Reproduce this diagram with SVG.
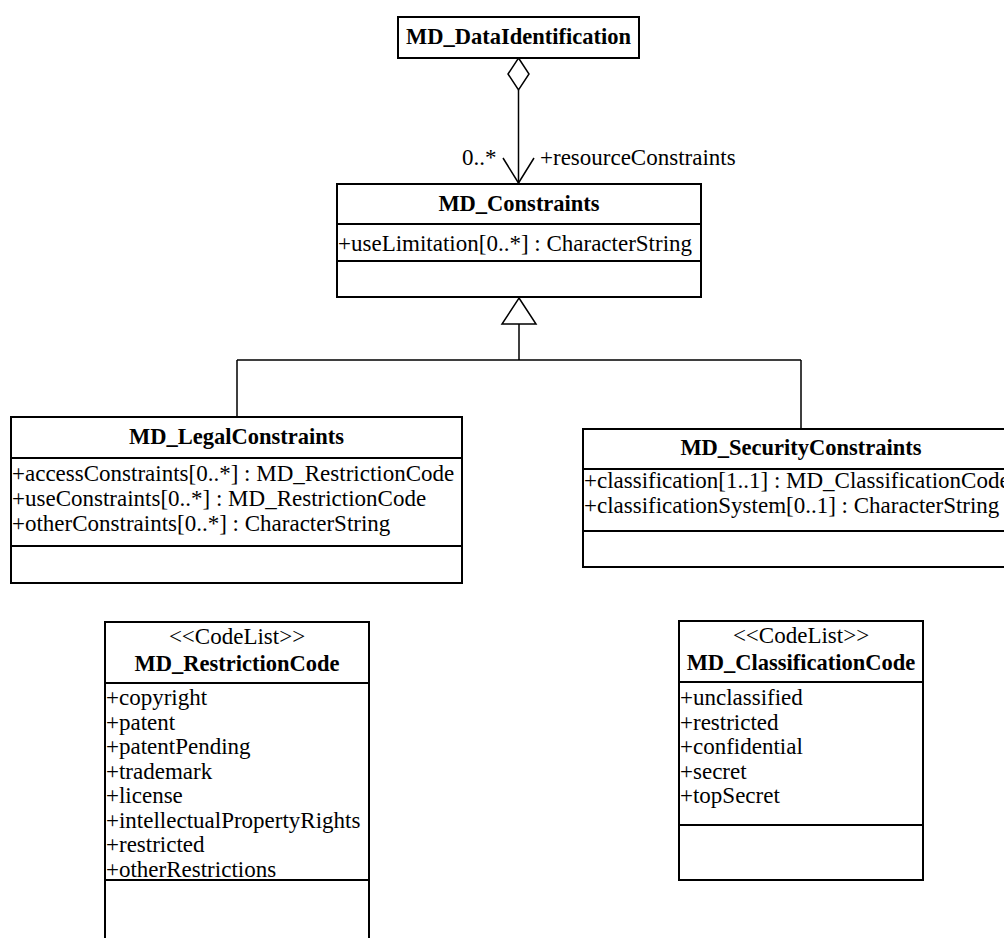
<svg xmlns="http://www.w3.org/2000/svg" width="1004" height="938" viewBox="0 0 1004 938">
<style>
  .box { fill: #ffffff; stroke: #000000; stroke-width: 2; }
  .sep { stroke: #000000; stroke-width: 2; fill: none; }
  .ln { stroke: #000000; stroke-width: 1.5; fill: none; }
  .t { font-family: "Liberation Serif", "Times New Roman", serif; font-size: 23px; fill: #000000; }
  .b { font-family: "Liberation Serif", "Times New Roman", serif; font-size: 22.5px; font-weight: bold; fill: #000000; text-anchor: middle; }
  .c { text-anchor: middle; }
</style>
<rect x="0" y="0" width="1004" height="938" fill="#ffffff"/>

<g id="connectors">
  <!-- aggregation -->
  <path class="ln" d="M518.5,90 V184"/>
  <path class="ln" fill="#ffffff" d="M518.5,58 L529,74 L518.5,90 L508,74 Z" style="fill:#ffffff"/>
  <path class="ln" d="M503,158 L518.5,183 L534,158"/>
  <text class="t" x="462" y="165">0..*</text>
  <text class="t" x="540" y="165">+resourceConstraints</text>
  <!-- generalization -->
  <path class="ln" d="M519,324 V360 M237,360 H801 M237,360 V417 M801,360 V429"/>
  <path class="ln" d="M519,298 L536,324 L502,324 Z" style="fill:#ffffff"/>
</g>

<g id="MD_DataIdentification">
  <rect class="box" x="398" y="17" width="241" height="41"/>
  <text class="b" x="518.5" y="44">MD_DataIdentification</text>
</g>

<g id="MD_Constraints">
  <rect class="box" x="337" y="184" width="364" height="113"/>
  <line class="sep" x1="337" y1="224" x2="701" y2="224"/>
  <line class="sep" x1="337" y1="261" x2="701" y2="261"/>
  <text class="b" x="519" y="211">MD_Constraints</text>
  <text class="t" x="338" y="251">+useLimitation[0..*] : CharacterString</text>
</g>

<g id="MD_LegalConstraints">
  <rect class="box" x="11" y="417" width="451" height="166"/>
  <line class="sep" x1="11" y1="458" x2="462" y2="458"/>
  <line class="sep" x1="11" y1="546" x2="462" y2="546"/>
  <text class="b" x="236.5" y="444">MD_LegalConstraints</text>
  <text class="t" x="12" y="481">+accessConstraints[0..*] : MD_RestrictionCode</text>
  <text class="t" x="12" y="506">+useConstraints[0..*] : MD_RestrictionCode</text>
  <text class="t" x="12" y="531">+otherConstraints[0..*] : CharacterString</text>
</g>

<g id="MD_SecurityConstraints">
  <rect class="box" x="583" y="429" width="436" height="138"/>
  <line class="sep" x1="583" y1="469" x2="1019" y2="469"/>
  <line class="sep" x1="583" y1="531" x2="1019" y2="531"/>
  <text class="b" x="801" y="455">MD_SecurityConstraints</text>
  <text class="t" x="584" y="488">+classification[1..1] : MD_ClassificationCode</text>
  <text class="t" x="584" y="513">+classificationSystem[0..1] : CharacterString</text>
</g>

<g id="MD_RestrictionCode">
  <rect class="box" x="105" y="622" width="264" height="330"/>
  <line class="sep" x1="105" y1="683" x2="369" y2="683"/>
  <line class="sep" x1="105" y1="880" x2="369" y2="880"/>
  <text class="t c" x="237" y="644">&lt;&lt;CodeList&gt;&gt;</text>
  <text class="b" x="237" y="671">MD_RestrictionCode</text>
  <text class="t" x="106" y="705">+copyright</text>
  <text class="t" x="106" y="729.5">+patent</text>
  <text class="t" x="106" y="754">+patentPending</text>
  <text class="t" x="106" y="778.5">+trademark</text>
  <text class="t" x="106" y="803">+license</text>
  <text class="t" x="106" y="827.5">+intellectualPropertyRights</text>
  <text class="t" x="106" y="852">+restricted</text>
  <text class="t" x="106" y="876.5">+otherRestrictions</text>
</g>

<g id="MD_ClassificationCode">
  <rect class="box" x="679" y="621" width="244" height="259"/>
  <line class="sep" x1="679" y1="682" x2="923" y2="682"/>
  <line class="sep" x1="679" y1="825" x2="923" y2="825"/>
  <text class="t c" x="801" y="643">&lt;&lt;CodeList&gt;&gt;</text>
  <text class="b" x="801" y="670">MD_ClassificationCode</text>
  <text class="t" x="680" y="705">+unclassified</text>
  <text class="t" x="680" y="729.5">+restricted</text>
  <text class="t" x="680" y="754">+confidential</text>
  <text class="t" x="680" y="778.5">+secret</text>
  <text class="t" x="680" y="803">+topSecret</text>
</g>
</svg>
